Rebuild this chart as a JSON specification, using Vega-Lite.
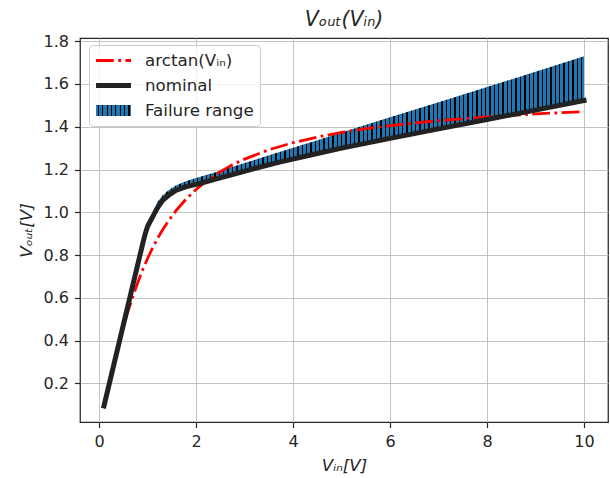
{
"$schema": "https://vega.github.io/schema/vega-lite/v6.json",
"width": 528,
"height": 384,
"autosize": {"type": "none"},
"padding": {"left": 80, "top": 38, "right": 2, "bottom": 56},
"background": "white",
"title": {"text": "Vₒᵤₜ(Vᵢₙ)", "fontSize": 20.5, "fontStyle": "italic", "fontWeight": "normal", "font": "DejaVu Sans", "color": "#262626", "baseline": "alphabetic", "offset": -13, "anchor": "middle"},
"config": {
  "font": "DejaVu Sans",
  "view": {"stroke": "#262626", "strokeWidth": 1.25},
  "axis": {"grid": true, "domain": false, "gridColor": "#c4c4c4", "gridWidth": 1, "tickColor": "#262626", "tickWidth": 1.2, "tickSize": 5.5, "labelFont": "DejaVu Sans", "labelFontSize": 16, "labelColor": "#262626", "labelFlush": false, "labelOverlap": false, "titleFont": "DejaVu Sans", "titleFontSize": 16.7, "titleFontWeight": "normal", "titleFontStyle": "italic", "titleColor": "#262626"}
},
"datasets": {
  "band": [
    {"x": 1.0, "lower": 0.935, "upper": 0.935},
    {"x": 1.1, "lower": 0.978, "upper": 0.998},
    {"x": 1.2, "lower": 1.02, "upper": 1.047},
    {"x": 1.31, "lower": 1.056, "upper": 1.08},
    {"x": 1.45, "lower": 1.083, "upper": 1.107},
    {"x": 1.58, "lower": 1.103, "upper": 1.125},
    {"x": 1.8, "lower": 1.12, "upper": 1.147},
    {"x": 2.07, "lower": 1.134, "upper": 1.165},
    {"x": 2.4, "lower": 1.155, "upper": 1.188},
    {"x": 2.69, "lower": 1.173, "upper": 1.209},
    {"x": 3.2, "lower": 1.205, "upper": 1.245},
    {"x": 3.72, "lower": 1.235, "upper": 1.282},
    {"x": 4.5, "lower": 1.275, "upper": 1.337},
    {"x": 5.0, "lower": 1.30, "upper": 1.373},
    {"x": 6.0, "lower": 1.346, "upper": 1.444},
    {"x": 7.0, "lower": 1.39, "upper": 1.515},
    {"x": 8.0, "lower": 1.434, "upper": 1.586},
    {"x": 9.0, "lower": 1.478, "upper": 1.657},
    {"x": 10.0, "lower": 1.523, "upper": 1.73}
  ],
  "lines": [
    {"series": "arctan(Vᵢₙ)", "x": 0.1, "y": 0.0997},
    {"series": "arctan(Vᵢₙ)", "x": 0.3, "y": 0.2915},
    {"series": "arctan(Vᵢₙ)", "x": 0.5, "y": 0.4636},
    {"series": "arctan(Vᵢₙ)", "x": 0.6, "y": 0.5404},
    {"series": "arctan(Vᵢₙ)", "x": 0.7, "y": 0.6107},
    {"series": "arctan(Vᵢₙ)", "x": 0.8, "y": 0.6747},
    {"series": "arctan(Vᵢₙ)", "x": 0.9, "y": 0.7328},
    {"series": "arctan(Vᵢₙ)", "x": 1.0, "y": 0.7854},
    {"series": "arctan(Vᵢₙ)", "x": 1.1, "y": 0.8330},
    {"series": "arctan(Vᵢₙ)", "x": 1.2, "y": 0.8761},
    {"series": "arctan(Vᵢₙ)", "x": 1.3, "y": 0.9151},
    {"series": "arctan(Vᵢₙ)", "x": 1.4, "y": 0.9505},
    {"series": "arctan(Vᵢₙ)", "x": 1.6, "y": 1.0122},
    {"series": "arctan(Vᵢₙ)", "x": 1.8, "y": 1.0637},
    {"series": "arctan(Vᵢₙ)", "x": 2.0, "y": 1.1071},
    {"series": "arctan(Vᵢₙ)", "x": 2.25, "y": 1.1526},
    {"series": "arctan(Vᵢₙ)", "x": 2.5, "y": 1.1903},
    {"series": "arctan(Vᵢₙ)", "x": 2.75, "y": 1.2220},
    {"series": "arctan(Vᵢₙ)", "x": 3.0, "y": 1.2490},
    {"series": "arctan(Vᵢₙ)", "x": 3.5, "y": 1.2925},
    {"series": "arctan(Vᵢₙ)", "x": 4.0, "y": 1.3258},
    {"series": "arctan(Vᵢₙ)", "x": 4.5, "y": 1.3521},
    {"series": "arctan(Vᵢₙ)", "x": 5.0, "y": 1.3734},
    {"series": "arctan(Vᵢₙ)", "x": 5.5, "y": 1.3909},
    {"series": "arctan(Vᵢₙ)", "x": 6.0, "y": 1.4056},
    {"series": "arctan(Vᵢₙ)", "x": 7.0, "y": 1.4289},
    {"series": "arctan(Vᵢₙ)", "x": 8.0, "y": 1.4464},
    {"series": "arctan(Vᵢₙ)", "x": 9.0, "y": 1.4601},
    {"series": "arctan(Vᵢₙ)", "x": 10.0, "y": 1.4711},
    {"series": "nominal", "x": 0.1, "y": 0.095},
    {"series": "nominal", "x": 0.5, "y": 0.475},
    {"series": "nominal", "x": 0.9, "y": 0.855},
    {"series": "nominal", "x": 0.95, "y": 0.9},
    {"series": "nominal", "x": 1.0, "y": 0.935},
    {"series": "nominal", "x": 1.1, "y": 0.978},
    {"series": "nominal", "x": 1.2, "y": 1.02},
    {"series": "nominal", "x": 1.31, "y": 1.056},
    {"series": "nominal", "x": 1.45, "y": 1.083},
    {"series": "nominal", "x": 1.58, "y": 1.103},
    {"series": "nominal", "x": 1.8, "y": 1.12},
    {"series": "nominal", "x": 2.07, "y": 1.134},
    {"series": "nominal", "x": 2.4, "y": 1.155},
    {"series": "nominal", "x": 2.69, "y": 1.173},
    {"series": "nominal", "x": 3.2, "y": 1.205},
    {"series": "nominal", "x": 3.72, "y": 1.235},
    {"series": "nominal", "x": 4.5, "y": 1.275},
    {"series": "nominal", "x": 5.0, "y": 1.30},
    {"series": "nominal", "x": 6.0, "y": 1.346},
    {"series": "nominal", "x": 7.0, "y": 1.39},
    {"series": "nominal", "x": 8.0, "y": 1.434},
    {"series": "nominal", "x": 9.0, "y": 1.478},
    {"series": "nominal", "x": 10.0, "y": 1.523}
  ]
},
"layer": [
  {
    "data": {"name": "band"},
    "mark": {"type": "area", "opacity": 1, "strokeWidth": 0, "fill": {"gradient": "linear", "x1": 0, "y1": 0, "x2": 1, "y2": 0, "stops": [
{"offset":0.003,"color":"#1f77b4"},{"offset":0.003,"color":"#000"},{"offset":0.006,"color":"#000"},{"offset":0.006,"color":"#1f77b4"},
{"offset":0.013,"color":"#1f77b4"},{"offset":0.013,"color":"#000"},{"offset":0.016,"color":"#000"},{"offset":0.016,"color":"#1f77b4"},
{"offset":0.023,"color":"#1f77b4"},{"offset":0.023,"color":"#000"},{"offset":0.026,"color":"#000"},{"offset":0.026,"color":"#1f77b4"},
{"offset":0.033,"color":"#1f77b4"},{"offset":0.033,"color":"#000"},{"offset":0.036,"color":"#000"},{"offset":0.036,"color":"#1f77b4"},
{"offset":0.043,"color":"#1f77b4"},{"offset":0.043,"color":"#000"},{"offset":0.046,"color":"#000"},{"offset":0.046,"color":"#1f77b4"},
{"offset":0.053,"color":"#1f77b4"},{"offset":0.053,"color":"#000"},{"offset":0.056,"color":"#000"},{"offset":0.056,"color":"#1f77b4"},
{"offset":0.063,"color":"#1f77b4"},{"offset":0.063,"color":"#000"},{"offset":0.066,"color":"#000"},{"offset":0.066,"color":"#1f77b4"},
{"offset":0.073,"color":"#1f77b4"},{"offset":0.073,"color":"#000"},{"offset":0.076,"color":"#000"},{"offset":0.076,"color":"#1f77b4"},
{"offset":0.083,"color":"#1f77b4"},{"offset":0.083,"color":"#000"},{"offset":0.086,"color":"#000"},{"offset":0.086,"color":"#1f77b4"},
{"offset":0.093,"color":"#1f77b4"},{"offset":0.093,"color":"#000"},{"offset":0.096,"color":"#000"},{"offset":0.096,"color":"#1f77b4"},
{"offset":0.103,"color":"#1f77b4"},{"offset":0.103,"color":"#000"},{"offset":0.106,"color":"#000"},{"offset":0.106,"color":"#1f77b4"},
{"offset":0.113,"color":"#1f77b4"},{"offset":0.113,"color":"#000"},{"offset":0.116,"color":"#000"},{"offset":0.116,"color":"#1f77b4"},
{"offset":0.123,"color":"#1f77b4"},{"offset":0.123,"color":"#000"},{"offset":0.126,"color":"#000"},{"offset":0.126,"color":"#1f77b4"},
{"offset":0.133,"color":"#1f77b4"},{"offset":0.133,"color":"#000"},{"offset":0.136,"color":"#000"},{"offset":0.136,"color":"#1f77b4"},
{"offset":0.143,"color":"#1f77b4"},{"offset":0.143,"color":"#000"},{"offset":0.146,"color":"#000"},{"offset":0.146,"color":"#1f77b4"},
{"offset":0.153,"color":"#1f77b4"},{"offset":0.153,"color":"#000"},{"offset":0.156,"color":"#000"},{"offset":0.156,"color":"#1f77b4"},
{"offset":0.163,"color":"#1f77b4"},{"offset":0.163,"color":"#000"},{"offset":0.166,"color":"#000"},{"offset":0.166,"color":"#1f77b4"},
{"offset":0.173,"color":"#1f77b4"},{"offset":0.173,"color":"#000"},{"offset":0.176,"color":"#000"},{"offset":0.176,"color":"#1f77b4"},
{"offset":0.183,"color":"#1f77b4"},{"offset":0.183,"color":"#000"},{"offset":0.186,"color":"#000"},{"offset":0.186,"color":"#1f77b4"},
{"offset":0.193,"color":"#1f77b4"},{"offset":0.193,"color":"#000"},{"offset":0.196,"color":"#000"},{"offset":0.196,"color":"#1f77b4"},
{"offset":0.203,"color":"#1f77b4"},{"offset":0.203,"color":"#000"},{"offset":0.206,"color":"#000"},{"offset":0.206,"color":"#1f77b4"},
{"offset":0.213,"color":"#1f77b4"},{"offset":0.213,"color":"#000"},{"offset":0.216,"color":"#000"},{"offset":0.216,"color":"#1f77b4"},
{"offset":0.223,"color":"#1f77b4"},{"offset":0.223,"color":"#000"},{"offset":0.226,"color":"#000"},{"offset":0.226,"color":"#1f77b4"},
{"offset":0.233,"color":"#1f77b4"},{"offset":0.233,"color":"#000"},{"offset":0.236,"color":"#000"},{"offset":0.236,"color":"#1f77b4"},
{"offset":0.243,"color":"#1f77b4"},{"offset":0.243,"color":"#000"},{"offset":0.246,"color":"#000"},{"offset":0.246,"color":"#1f77b4"},
{"offset":0.253,"color":"#1f77b4"},{"offset":0.253,"color":"#000"},{"offset":0.256,"color":"#000"},{"offset":0.256,"color":"#1f77b4"},
{"offset":0.263,"color":"#1f77b4"},{"offset":0.263,"color":"#000"},{"offset":0.266,"color":"#000"},{"offset":0.266,"color":"#1f77b4"},
{"offset":0.273,"color":"#1f77b4"},{"offset":0.273,"color":"#000"},{"offset":0.276,"color":"#000"},{"offset":0.276,"color":"#1f77b4"},
{"offset":0.283,"color":"#1f77b4"},{"offset":0.283,"color":"#000"},{"offset":0.286,"color":"#000"},{"offset":0.286,"color":"#1f77b4"},
{"offset":0.293,"color":"#1f77b4"},{"offset":0.293,"color":"#000"},{"offset":0.296,"color":"#000"},{"offset":0.296,"color":"#1f77b4"},
{"offset":0.303,"color":"#1f77b4"},{"offset":0.303,"color":"#000"},{"offset":0.306,"color":"#000"},{"offset":0.306,"color":"#1f77b4"},
{"offset":0.313,"color":"#1f77b4"},{"offset":0.313,"color":"#000"},{"offset":0.316,"color":"#000"},{"offset":0.316,"color":"#1f77b4"},
{"offset":0.323,"color":"#1f77b4"},{"offset":0.323,"color":"#000"},{"offset":0.326,"color":"#000"},{"offset":0.326,"color":"#1f77b4"},
{"offset":0.333,"color":"#1f77b4"},{"offset":0.333,"color":"#000"},{"offset":0.336,"color":"#000"},{"offset":0.336,"color":"#1f77b4"},
{"offset":0.343,"color":"#1f77b4"},{"offset":0.343,"color":"#000"},{"offset":0.346,"color":"#000"},{"offset":0.346,"color":"#1f77b4"},
{"offset":0.353,"color":"#1f77b4"},{"offset":0.353,"color":"#000"},{"offset":0.356,"color":"#000"},{"offset":0.356,"color":"#1f77b4"},
{"offset":0.363,"color":"#1f77b4"},{"offset":0.363,"color":"#000"},{"offset":0.366,"color":"#000"},{"offset":0.366,"color":"#1f77b4"},
{"offset":0.373,"color":"#1f77b4"},{"offset":0.373,"color":"#000"},{"offset":0.376,"color":"#000"},{"offset":0.376,"color":"#1f77b4"},
{"offset":0.383,"color":"#1f77b4"},{"offset":0.383,"color":"#000"},{"offset":0.386,"color":"#000"},{"offset":0.386,"color":"#1f77b4"},
{"offset":0.393,"color":"#1f77b4"},{"offset":0.393,"color":"#000"},{"offset":0.396,"color":"#000"},{"offset":0.396,"color":"#1f77b4"},
{"offset":0.403,"color":"#1f77b4"},{"offset":0.403,"color":"#000"},{"offset":0.406,"color":"#000"},{"offset":0.406,"color":"#1f77b4"},
{"offset":0.413,"color":"#1f77b4"},{"offset":0.413,"color":"#000"},{"offset":0.416,"color":"#000"},{"offset":0.416,"color":"#1f77b4"},
{"offset":0.423,"color":"#1f77b4"},{"offset":0.423,"color":"#000"},{"offset":0.426,"color":"#000"},{"offset":0.426,"color":"#1f77b4"},
{"offset":0.433,"color":"#1f77b4"},{"offset":0.433,"color":"#000"},{"offset":0.436,"color":"#000"},{"offset":0.436,"color":"#1f77b4"},
{"offset":0.443,"color":"#1f77b4"},{"offset":0.443,"color":"#000"},{"offset":0.446,"color":"#000"},{"offset":0.446,"color":"#1f77b4"},
{"offset":0.453,"color":"#1f77b4"},{"offset":0.453,"color":"#000"},{"offset":0.456,"color":"#000"},{"offset":0.456,"color":"#1f77b4"},
{"offset":0.463,"color":"#1f77b4"},{"offset":0.463,"color":"#000"},{"offset":0.466,"color":"#000"},{"offset":0.466,"color":"#1f77b4"},
{"offset":0.473,"color":"#1f77b4"},{"offset":0.473,"color":"#000"},{"offset":0.476,"color":"#000"},{"offset":0.476,"color":"#1f77b4"},
{"offset":0.483,"color":"#1f77b4"},{"offset":0.483,"color":"#000"},{"offset":0.486,"color":"#000"},{"offset":0.486,"color":"#1f77b4"},
{"offset":0.493,"color":"#1f77b4"},{"offset":0.493,"color":"#000"},{"offset":0.496,"color":"#000"},{"offset":0.496,"color":"#1f77b4"},
{"offset":0.503,"color":"#1f77b4"},{"offset":0.503,"color":"#000"},{"offset":0.506,"color":"#000"},{"offset":0.506,"color":"#1f77b4"},
{"offset":0.513,"color":"#1f77b4"},{"offset":0.513,"color":"#000"},{"offset":0.516,"color":"#000"},{"offset":0.516,"color":"#1f77b4"},
{"offset":0.523,"color":"#1f77b4"},{"offset":0.523,"color":"#000"},{"offset":0.526,"color":"#000"},{"offset":0.526,"color":"#1f77b4"},
{"offset":0.533,"color":"#1f77b4"},{"offset":0.533,"color":"#000"},{"offset":0.536,"color":"#000"},{"offset":0.536,"color":"#1f77b4"},
{"offset":0.543,"color":"#1f77b4"},{"offset":0.543,"color":"#000"},{"offset":0.546,"color":"#000"},{"offset":0.546,"color":"#1f77b4"},
{"offset":0.553,"color":"#1f77b4"},{"offset":0.553,"color":"#000"},{"offset":0.556,"color":"#000"},{"offset":0.556,"color":"#1f77b4"},
{"offset":0.563,"color":"#1f77b4"},{"offset":0.563,"color":"#000"},{"offset":0.566,"color":"#000"},{"offset":0.566,"color":"#1f77b4"},
{"offset":0.573,"color":"#1f77b4"},{"offset":0.573,"color":"#000"},{"offset":0.576,"color":"#000"},{"offset":0.576,"color":"#1f77b4"},
{"offset":0.583,"color":"#1f77b4"},{"offset":0.583,"color":"#000"},{"offset":0.586,"color":"#000"},{"offset":0.586,"color":"#1f77b4"},
{"offset":0.593,"color":"#1f77b4"},{"offset":0.593,"color":"#000"},{"offset":0.596,"color":"#000"},{"offset":0.596,"color":"#1f77b4"},
{"offset":0.603,"color":"#1f77b4"},{"offset":0.603,"color":"#000"},{"offset":0.606,"color":"#000"},{"offset":0.606,"color":"#1f77b4"},
{"offset":0.613,"color":"#1f77b4"},{"offset":0.613,"color":"#000"},{"offset":0.616,"color":"#000"},{"offset":0.616,"color":"#1f77b4"},
{"offset":0.623,"color":"#1f77b4"},{"offset":0.623,"color":"#000"},{"offset":0.626,"color":"#000"},{"offset":0.626,"color":"#1f77b4"},
{"offset":0.633,"color":"#1f77b4"},{"offset":0.633,"color":"#000"},{"offset":0.636,"color":"#000"},{"offset":0.636,"color":"#1f77b4"},
{"offset":0.643,"color":"#1f77b4"},{"offset":0.643,"color":"#000"},{"offset":0.646,"color":"#000"},{"offset":0.646,"color":"#1f77b4"},
{"offset":0.653,"color":"#1f77b4"},{"offset":0.653,"color":"#000"},{"offset":0.656,"color":"#000"},{"offset":0.656,"color":"#1f77b4"},
{"offset":0.663,"color":"#1f77b4"},{"offset":0.663,"color":"#000"},{"offset":0.666,"color":"#000"},{"offset":0.666,"color":"#1f77b4"},
{"offset":0.673,"color":"#1f77b4"},{"offset":0.673,"color":"#000"},{"offset":0.676,"color":"#000"},{"offset":0.676,"color":"#1f77b4"},
{"offset":0.683,"color":"#1f77b4"},{"offset":0.683,"color":"#000"},{"offset":0.686,"color":"#000"},{"offset":0.686,"color":"#1f77b4"},
{"offset":0.693,"color":"#1f77b4"},{"offset":0.693,"color":"#000"},{"offset":0.696,"color":"#000"},{"offset":0.696,"color":"#1f77b4"},
{"offset":0.703,"color":"#1f77b4"},{"offset":0.703,"color":"#000"},{"offset":0.706,"color":"#000"},{"offset":0.706,"color":"#1f77b4"},
{"offset":0.713,"color":"#1f77b4"},{"offset":0.713,"color":"#000"},{"offset":0.716,"color":"#000"},{"offset":0.716,"color":"#1f77b4"},
{"offset":0.723,"color":"#1f77b4"},{"offset":0.723,"color":"#000"},{"offset":0.726,"color":"#000"},{"offset":0.726,"color":"#1f77b4"},
{"offset":0.733,"color":"#1f77b4"},{"offset":0.733,"color":"#000"},{"offset":0.736,"color":"#000"},{"offset":0.736,"color":"#1f77b4"},
{"offset":0.743,"color":"#1f77b4"},{"offset":0.743,"color":"#000"},{"offset":0.746,"color":"#000"},{"offset":0.746,"color":"#1f77b4"},
{"offset":0.753,"color":"#1f77b4"},{"offset":0.753,"color":"#000"},{"offset":0.756,"color":"#000"},{"offset":0.756,"color":"#1f77b4"},
{"offset":0.763,"color":"#1f77b4"},{"offset":0.763,"color":"#000"},{"offset":0.766,"color":"#000"},{"offset":0.766,"color":"#1f77b4"},
{"offset":0.773,"color":"#1f77b4"},{"offset":0.773,"color":"#000"},{"offset":0.776,"color":"#000"},{"offset":0.776,"color":"#1f77b4"},
{"offset":0.783,"color":"#1f77b4"},{"offset":0.783,"color":"#000"},{"offset":0.786,"color":"#000"},{"offset":0.786,"color":"#1f77b4"},
{"offset":0.793,"color":"#1f77b4"},{"offset":0.793,"color":"#000"},{"offset":0.796,"color":"#000"},{"offset":0.796,"color":"#1f77b4"},
{"offset":0.803,"color":"#1f77b4"},{"offset":0.803,"color":"#000"},{"offset":0.806,"color":"#000"},{"offset":0.806,"color":"#1f77b4"},
{"offset":0.813,"color":"#1f77b4"},{"offset":0.813,"color":"#000"},{"offset":0.816,"color":"#000"},{"offset":0.816,"color":"#1f77b4"},
{"offset":0.823,"color":"#1f77b4"},{"offset":0.823,"color":"#000"},{"offset":0.826,"color":"#000"},{"offset":0.826,"color":"#1f77b4"},
{"offset":0.833,"color":"#1f77b4"},{"offset":0.833,"color":"#000"},{"offset":0.836,"color":"#000"},{"offset":0.836,"color":"#1f77b4"},
{"offset":0.843,"color":"#1f77b4"},{"offset":0.843,"color":"#000"},{"offset":0.846,"color":"#000"},{"offset":0.846,"color":"#1f77b4"},
{"offset":0.853,"color":"#1f77b4"},{"offset":0.853,"color":"#000"},{"offset":0.856,"color":"#000"},{"offset":0.856,"color":"#1f77b4"},
{"offset":0.863,"color":"#1f77b4"},{"offset":0.863,"color":"#000"},{"offset":0.866,"color":"#000"},{"offset":0.866,"color":"#1f77b4"},
{"offset":0.873,"color":"#1f77b4"},{"offset":0.873,"color":"#000"},{"offset":0.876,"color":"#000"},{"offset":0.876,"color":"#1f77b4"},
{"offset":0.883,"color":"#1f77b4"},{"offset":0.883,"color":"#000"},{"offset":0.886,"color":"#000"},{"offset":0.886,"color":"#1f77b4"},
{"offset":0.893,"color":"#1f77b4"},{"offset":0.893,"color":"#000"},{"offset":0.896,"color":"#000"},{"offset":0.896,"color":"#1f77b4"},
{"offset":0.903,"color":"#1f77b4"},{"offset":0.903,"color":"#000"},{"offset":0.906,"color":"#000"},{"offset":0.906,"color":"#1f77b4"},
{"offset":0.913,"color":"#1f77b4"},{"offset":0.913,"color":"#000"},{"offset":0.916,"color":"#000"},{"offset":0.916,"color":"#1f77b4"},
{"offset":0.923,"color":"#1f77b4"},{"offset":0.923,"color":"#000"},{"offset":0.926,"color":"#000"},{"offset":0.926,"color":"#1f77b4"},
{"offset":0.933,"color":"#1f77b4"},{"offset":0.933,"color":"#000"},{"offset":0.936,"color":"#000"},{"offset":0.936,"color":"#1f77b4"},
{"offset":0.943,"color":"#1f77b4"},{"offset":0.943,"color":"#000"},{"offset":0.946,"color":"#000"},{"offset":0.946,"color":"#1f77b4"},
{"offset":0.953,"color":"#1f77b4"},{"offset":0.953,"color":"#000"},{"offset":0.956,"color":"#000"},{"offset":0.956,"color":"#1f77b4"},
{"offset":0.963,"color":"#1f77b4"},{"offset":0.963,"color":"#000"},{"offset":0.966,"color":"#000"},{"offset":0.966,"color":"#1f77b4"},
{"offset":0.973,"color":"#1f77b4"},{"offset":0.973,"color":"#000"},{"offset":0.976,"color":"#000"},{"offset":0.976,"color":"#1f77b4"},
{"offset":0.983,"color":"#1f77b4"},{"offset":0.983,"color":"#000"},{"offset":0.986,"color":"#000"},{"offset":0.986,"color":"#1f77b4"},
{"offset":0.993,"color":"#1f77b4"},{"offset":0.993,"color":"#000"},{"offset":0.996,"color":"#000"},{"offset":0.996,"color":"#1f77b4"}
    ]}},
    "encoding": {
      "x": {"field": "x", "type": "quantitative", "scale": {"domain": [-0.395, 10.495], "nice": false, "zero": false}, "axis": {"title": "Vᵢₙ[V]", "values": [0, 2, 4, 6, 8, 10], "labelPadding": 6, "titlePadding": 8}},
      "y": {"field": "upper", "type": "quantitative", "scale": {"domain": [0.02, 1.815], "nice": false, "zero": false}, "axis": {"title": "Vₒᵤₜ[V]", "values": [0.2, 0.4, 0.6, 0.8, 1.0, 1.2, 1.4, 1.6, 1.8], "format": ".1f", "labelPadding": 6, "titlePadding": 8}},
      "y2": {"field": "lower"}
    }
  },
  {
    "data": {"name": "lines"},
    "transform": [{"filter": "datum.series === 'arctan(Vᵢₙ)'"}],
    "mark": {"type": "line", "strokeWidth": 2.8, "strokeDash": [17.8, 4.4, 2.8, 4.4]},
    "encoding": {
      "x": {"field": "x", "type": "quantitative"},
      "y": {"field": "y", "type": "quantitative"},
      "color": {"field": "series", "type": "nominal",
        "scale": {"domain": ["arctan(Vᵢₙ)", "nominal", "Failure range"], "range": ["#ff0000", "#222222", "#1f77b4"]},
        "legend": {
          "title": null, "orient": "none", "legendX": 9, "legendY": 7, "padding": 6,
          "fillColor": "rgba(255,255,255,0.8)", "strokeColor": "#cccccc", "cornerRadius": 4,
          "symbolSize": 256, "symbolStrokeWidth": 2.8, "labelFont": "DejaVu Sans", "labelFontSize": 16.7, "labelColor": "#262626", "labelOffset": 31, "rowPadding": 6,
          "encode": {"symbols": {"update": {
            "shape": [{"test": "datum.value === 'arctan(Vᵢₙ)'", "value": "M-1.06,0H3.31"}, {"test": "datum.value === 'nominal'", "value": "M-1.06,-0.31H3.31V0.31H-1.06Z"}, {"value": "M-1.06,-0.69H3.31V0.69H-1.06Z"}],
            "fill": [{"test": "datum.value === 'arctan(Vᵢₙ)'", "value": "transparent"}, {"test": "datum.value === 'nominal'", "value": "#222222"}, {"value": {"gradient": "linear", "x1": 0, "y1": 0, "x2": 1, "y2": 0, "stops": [
              {"offset":0.05,"color":"#1f77b4"},{"offset":0.05,"color":"#000"},{"offset":0.085,"color":"#000"},{"offset":0.085,"color":"#1f77b4"},
              {"offset":0.175,"color":"#1f77b4"},{"offset":0.175,"color":"#000"},{"offset":0.21,"color":"#000"},{"offset":0.21,"color":"#1f77b4"},
              {"offset":0.3,"color":"#1f77b4"},{"offset":0.3,"color":"#000"},{"offset":0.335,"color":"#000"},{"offset":0.335,"color":"#1f77b4"},
              {"offset":0.425,"color":"#1f77b4"},{"offset":0.425,"color":"#000"},{"offset":0.46,"color":"#000"},{"offset":0.46,"color":"#1f77b4"},
              {"offset":0.55,"color":"#1f77b4"},{"offset":0.55,"color":"#000"},{"offset":0.585,"color":"#000"},{"offset":0.585,"color":"#1f77b4"},
              {"offset":0.675,"color":"#1f77b4"},{"offset":0.675,"color":"#000"},{"offset":0.71,"color":"#000"},{"offset":0.71,"color":"#1f77b4"},
              {"offset":0.8,"color":"#1f77b4"},{"offset":0.8,"color":"#000"},{"offset":0.835,"color":"#000"},{"offset":0.835,"color":"#1f77b4"},
              {"offset":0.925,"color":"#1f77b4"},{"offset":0.925,"color":"#000"},{"offset":0.96,"color":"#000"},{"offset":0.96,"color":"#1f77b4"}
            ]}}],
            "stroke": [{"test": "datum.value === 'arctan(Vᵢₙ)'", "value": "#ff0000"}, {"value": "transparent"}],
            "strokeOpacity": [{"test": "datum.value === 'arctan(Vᵢₙ)'", "value": 1}, {"value": 0}],
            "strokeDash": [{"test": "datum.value === 'arctan(Vᵢₙ)'", "value": [17.8, 4.4, 2.8, 4.4]}, {"value": [1, 0]}],
            "opacity": {"value": 1},
            "fillOpacity": {"value": 1}
          }}}
        }
      }
    }
  },
  {
    "data": {"name": "lines"},
    "transform": [{"filter": "datum.series === 'nominal'"}],
    "mark": {"type": "line", "strokeWidth": 5, "strokeCap": "square", "strokeJoin": "round"},
    "encoding": {
      "x": {"field": "x", "type": "quantitative"},
      "y": {"field": "y", "type": "quantitative"},
      "color": {"field": "series", "type": "nominal"}
    }
  }
]
}
